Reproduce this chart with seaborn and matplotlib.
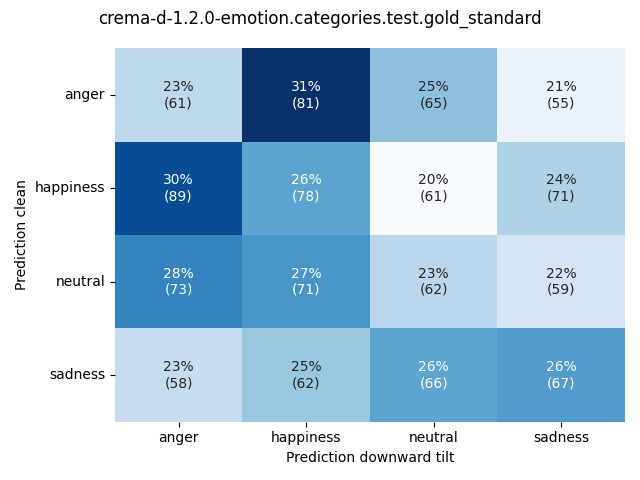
import numpy as np
import pandas as pd
import matplotlib
matplotlib.use("Agg")
import matplotlib.pyplot as plt
import seaborn as sns

labels = ["anger", "happiness", "neutral", "sadness"]
counts = np.array([
    [61, 81, 65, 55],
    [89, 78, 61, 71],
    [73, 71, 62, 59],
    [58, 62, 66, 67],
])

perc = counts / counts.sum(axis=1, keepdims=True) * 100
annot = np.array([[f"{perc[i, j]:.0f}%\n({counts[i, j]})" for j in range(4)] for i in range(4)])
df = pd.DataFrame(perc, index=labels, columns=labels)

fig, ax = plt.subplots(figsize=(6.4, 4.8), dpi=100)
sns.heatmap(df, annot=annot, fmt="", cmap="Blues", cbar=False, ax=ax)
ax.set_xlabel("Prediction downward tilt")
ax.set_ylabel("Prediction clean")
ax.tick_params(axis="y", rotation=0)
fig.suptitle("crema-d-1.2.0-emotion.categories.test.gold_standard")
fig.tight_layout()
fig.savefig("out.png")
plt.close(fig)
